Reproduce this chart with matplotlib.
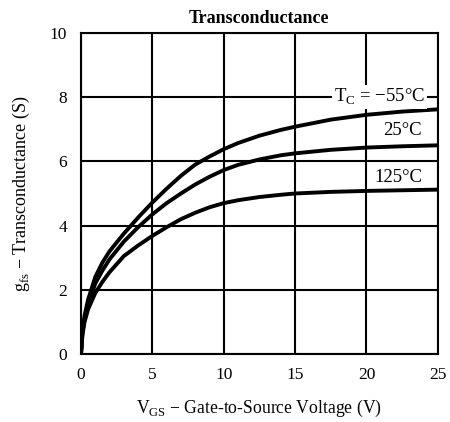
import matplotlib
matplotlib.use("Agg")
import matplotlib.pyplot as plt

# Gate-to-source voltage (V)
vgs = [0, 0.1, 0.25, 0.5, 1, 1.5, 2, 3, 4, 5, 6, 7, 8, 9, 10,
       11, 12.5, 14, 15, 17.5, 20, 22.5, 25]

# Transconductance (S) per case temperature
gfs_m55 = [0, 0.7, 1.2, 1.7, 2.4, 2.85, 3.2, 3.75, 4.25, 4.72, 5.15, 5.55, 5.9, 6.15, 6.38,
           6.57, 6.8, 6.98, 7.08, 7.3, 7.45, 7.55, 7.62]
gfs_25 = [0, 0.65, 1.1, 1.55, 2.2, 2.6, 2.95, 3.5, 3.95, 4.35, 4.7, 5.0, 5.28, 5.52, 5.73,
          5.89, 6.06, 6.19, 6.25, 6.36, 6.43, 6.47, 6.5]
gfs_125 = [0, 0.6, 1.0, 1.4, 1.9, 2.25, 2.55, 3.05, 3.38, 3.68, 3.95, 4.2, 4.4, 4.57, 4.7,
           4.79, 4.89, 4.96, 5.0, 5.05, 5.08, 5.1, 5.12]

labels = ["T$_\\mathregular{C}$ = \u221255\u00b0C", "25\u00b0C", "125\u00b0C"]
label_pos = [(24.1, 8.0), (23.9, 6.95), (23.9, 5.5)]

plt.rcParams["font.family"] = "Liberation Serif"
plt.rcParams["mathtext.fontset"] = "custom"
plt.rcParams["mathtext.rm"] = "Liberation Serif"

fig = plt.figure(figsize=(4.5, 4.22), dpi=100)
ax = fig.add_axes([0.18, 0.161, 0.793, 0.761])

for y in (gfs_m55, gfs_25, gfs_125):
    ax.plot(vgs, y, color="black", lw=2.8, solid_joinstyle="round", zorder=3)

ax.set_xlim(0, 25)
ax.set_ylim(0, 10)
ax.set_xticks(range(0, 26, 5))
ax.set_yticks(range(0, 11, 2))
ax.grid(True, color="black", lw=1.5)
ax.tick_params(length=0, labelsize=12.5, pad=9)
ax.tick_params(axis="y", pad=10)
for s in ax.spines.values():
    s.set_linewidth(1.5)

for txt, (x, y) in zip(labels, label_pos):
    ax.text(x, y, txt, ha="right", va="center", fontsize=13.5, zorder=4,
            bbox=dict(facecolor="white", edgecolor="none", pad=1.5))

ax.set_title("Transconductance", fontsize=13, fontweight="bold", pad=7)
ax.set_xlabel("V$_\\mathregular{GS}$ \u2212 Gate-to-Source Voltage (V)", fontsize=12.7, labelpad=11)
ax.set_ylabel("g$_\\mathregular{fs}$ \u2212 Transconductance (S)", fontsize=13, labelpad=13)

fig.savefig("out.png", dpi=100)
